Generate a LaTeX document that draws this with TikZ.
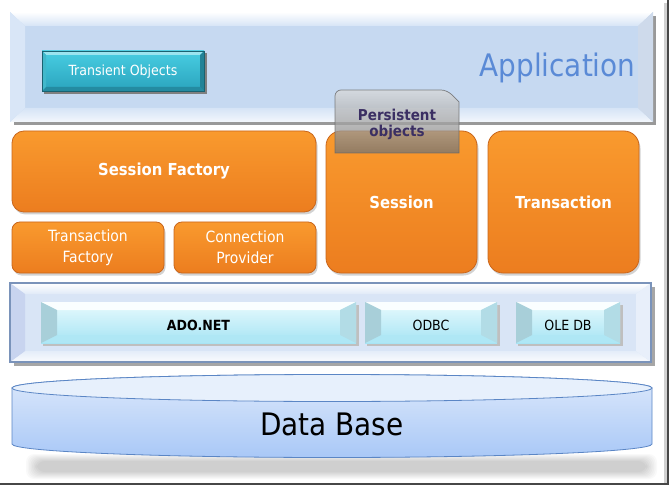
\documentclass[tikz,border=0pt]{standalone}
\usepackage{fontspec}
\setmainfont{DejaVu Sans Condensed}
\usetikzlibrary{shadows}
\definecolor{appface}{HTML}{C6D9F1}
\definecolor{appbev}{HTML}{D6E4F6}
\definecolor{appside}{HTML}{D9E6F7}
\definecolor{apptext}{HTML}{5A8AD6}
\definecolor{trtop}{HTML}{48CDE2}
\definecolor{trbot}{HTML}{2AA4BD}
\definecolor{orgtop}{HTML}{F99A2E}
\definecolor{orgbot}{HTML}{EC7D1F}
\definecolor{orgline}{HTML}{C9661C}
\definecolor{perstext}{HTML}{3B2F63}
\definecolor{adoface}{HTML}{D9E5F6}
\definecolor{adoleft}{HTML}{C8D4EF}
\definecolor{adoline}{HTML}{7A93BA}
\definecolor{btntop}{HTML}{E8FAFD}
\definecolor{btnbot}{HTML}{A6E4F4}
\definecolor{btnleft}{HTML}{A8CFD9}
\definecolor{btnright}{HTML}{B2DCE6}
\definecolor{dbtop}{HTML}{DDE9FB}
\definecolor{dbbot}{HTML}{A9C8F7}
\definecolor{dbline}{HTML}{5B86C5}
\newcommand\bev[7]{%
  \path[#7 face] (#1,#2) rectangle (#3,#4);
  \path[#7 top] (#1,#2) -- (#3,#2) -- ({#3-#5},{#2+#6}) -- ({#1+#5},{#2+#6}) -- cycle;
  \path[#7 bottom] (#1,#4) -- (#3,#4) -- ({#3-#5},{#4-#6}) -- ({#1+#5},{#4-#6}) -- cycle;
  \path[#7 left] (#1,#2) -- ({#1+#5},{#2+#6}) -- ({#1+#5},{#4-#6}) -- (#1,#4) -- cycle;
  \path[#7 right] (#3,#2) -- ({#3-#5},{#2+#6}) -- ({#3-#5},{#4-#6}) -- (#3,#4) -- cycle;
  \path[#7 border] (#1,#2) rectangle (#3,#4);
}
\tikzset{
  app face/.style={fill=appface},
  app top/.style={top color=white, bottom color=appbev},
  app bottom/.style={top color=appbev, bottom color=white!70!appbev},
  app left/.style={fill=appside},
  app right/.style={fill=appside!95!black},
  app border/.style={},
  tr face/.style={top color=trtop, bottom color=trbot},
  tr top/.style={fill=trtop!55!white},
  tr bottom/.style={fill=trbot!85!black},
  tr left/.style={fill=trtop!90!black},
  tr right/.style={fill=trbot!80!black},
  tr border/.style={draw=trbot!60!black, line width=0.5pt},
  ado face/.style={fill=adoface},
  ado top/.style={top color=white, bottom color=adoface!80!white},
  ado bottom/.style={top color=adoface!70!white, bottom color=white!85!adoface},
  ado left/.style={fill=adoleft},
  ado right/.style={fill=adoface!60!white},
  ado border/.style={draw=adoline, line width=1.3pt},
  btn face/.style={top color=btntop, bottom color=btnbot},
  btn top/.style={fill=white!80!btntop},
  btn bottom/.style={fill=btnbot!90!white},
  btn left/.style={fill=btnleft},
  btn right/.style={fill=btnright},
  btn border/.style={},
  orangebox/.style={draw=orgline, line width=0.8pt, top color=orgtop, bottom color=orgbot,
    inner sep=0pt, align=center, text=white,
    drop shadow={shadow xshift=1.5pt, shadow yshift=-2.5pt, opacity=0.35}},
  bigorange/.style={orangebox, font=\bfseries\fontsize{16.5}{19}\selectfont},
  smallorange/.style={orangebox, rounded corners=8pt, font=\fontsize{15.5}{21}\selectfont},
  btntext/.style={font=\fontsize{14}{16}\selectfont, text=black},
}
\begin{document}
\begin{tikzpicture}[x=1pt,y=-1pt]
\useasboundingbox (0,0) rectangle (671,486);
\fill[white] (0,0) rectangle (671,486);
% outer frame shadow
\fill[black!18] (664,3) rectangle (667,483);
\fill[black!72] (666.5,0) rectangle (669,485);
\fill[black!72] (0,482.5) rectangle (669,485);
% application panel
\fill[black!40] (14,16) rectangle (656,125.5);
\bev{10}{12}{653}{122}{15}{14}{app}
\fill[black!50] (44,53.5) rectangle (206.5,94);
\bev{42}{51}{204}{91}{4}{4}{tr}
\node[text=white, font=\fontsize{14}{16}\selectfont] (transient) at (123,72) {Transient Objects};
\node[anchor=east, text=apptext, font=\fontsize{31}{34}\selectfont] (application) at (639,68) {Application};
% orange boxes
\node[bigorange, rounded corners=12pt, minimum width=304pt, minimum height=81pt] (sfactory) at (164,171.5) {Session Factory};
\node[smallorange, minimum width=152pt, minimum height=51pt] (tfactory) at (88,247.5) {Transaction\\Factory};
\node[smallorange, minimum width=142pt, minimum height=51pt] (cprovider) at (245,247.5) {Connection\\Provider};
\node[bigorange, rounded corners=15pt, minimum width=151pt, minimum height=142pt] (session) at (401.5,202) {Session};
\node[bigorange, rounded corners=15pt, minimum width=151pt, minimum height=142pt] (transaction) at (563.5,202) {Transaction};
% persistent objects
\path[top color=black!15, bottom color=black!55, fill opacity=0.75, draw=black!60, draw opacity=0.8, line width=0.7pt]
  (335,153) {[rounded corners=6pt] -- (335,90) -- (447,90)} -- (459,102) -- (459,153) -- cycle;
\node[align=center, text=perstext, font=\bfseries\fontsize{15}{16}\selectfont] (persistent) at (397,124) {Persistent\\objects};
% ADO panel
\fill[black!35] (13.5,286.5) rectangle (655,366);
\bev{10}{283}{651}{362}{15}{11}{ado}
\fill[black!25] (43,304.5) rectangle (358.5,346);
\bev{41}{302}{356}{343}{16}{8}{btn}
\fill[black!25] (367,304.5) rectangle (499.5,346);
\bev{365}{302}{497}{343}{16}{8}{btn}
\fill[black!25] (518,304.5) rectangle (622.5,346);
\bev{516}{302}{620}{343}{16}{8}{btn}
\node[btntext, font=\bfseries\fontsize{14}{16}\selectfont] (adonet) at (198.5,325) {ADO.NET};
\node[btntext] (odbc) at (431,325) {ODBC};
\node[btntext] (oledb) at (568,325) {OLE DB};
% database shadow
\foreach \i in {0,...,7}
  \fill[black, opacity=0.025, rounded corners=8pt] ({26+\i*1.5},{454+\i}) rectangle ({657-\i*1.5},{479-\i});
% cylinder
\shade[top color=dbtop, bottom color=dbbot, draw=dbline, line width=0.8pt]
  (12,388) -- (12,444) arc[start angle=180, end angle=360, x radius=320pt, y radius=13.5pt]
  -- (652,388) arc[start angle=0, end angle=180, x radius=320pt, y radius=13.5pt] -- cycle;
\draw[dbline, line width=0.8pt, fill=dbtop!70!white] (332,388) ellipse [x radius=320pt, y radius=13.5pt];
\node[font=\fontsize{31}{34}\selectfont, text=black] (database) at (332,424) {Data Base};
\end{tikzpicture}
\end{document}
